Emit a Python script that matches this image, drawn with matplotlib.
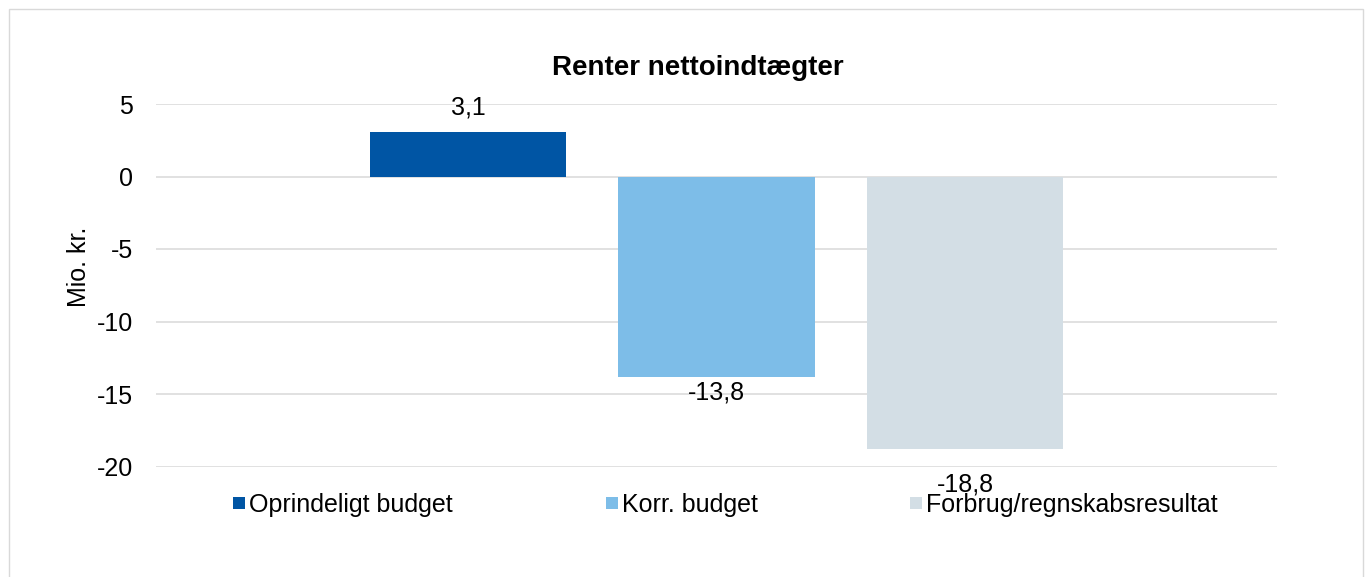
import matplotlib.pyplot as plt
from matplotlib.patches import Rectangle

plt.rcParams["font.family"] = ["Liberation Sans", "DejaVu Sans"]
plt.rcParams["font.size"] = 18
plt.rcParams["axes.unicode_minus"] = False

series = ["Oprindeligt budget", "Korr. budget", "Forbrug/regnskabsresultat"]
values = [3.1, -13.8, -18.8]
colors = ["#0055A4", "#7DBDE8", "#D3DEE5"]
yticks = [5, 0, -5, -10, -15, -20]
title = "Renter nettoindtægter"
ylabel = "Mio. kr."

# label offsets in pixels from the bar end (baseline)
label_offsets = [17, -23, -42]

fig = plt.figure(figsize=(13.7, 5.77), dpi=100)
ax = fig.add_axes([156 / 1370, 1 - 466.5 / 577, (1277 - 156) / 1370, (466.5 - 104) / 577])

pos = [-1, 0, 1]
bars = ax.bar(pos, values, width=0.79, color=colors, label=series, zorder=2)
for p, v, off in zip(pos, values, label_offsets):
    ax.annotate(f"{v:.1f}".replace(".", ","), (p, v), xytext=(0, off),
                textcoords="offset pixels", ha="center", va="baseline",
                fontsize=18, zorder=3)

ax.set_xlim(-2.255, 2.255)
ax.set_ylim(-20, 5)
ax.set_yticks(yticks)
ax.set_xticks([])
ax.grid(axis="y", color="#D9D9D9", linewidth=1.1, zorder=0)
ax.set_axisbelow(True)
ax.tick_params(axis="y", length=0, pad=16.5, labelsize=18)
for s in ax.spines.values():
    s.set_visible(False)

fig.text(698 / 1370, 1 - 75 / 577, title, ha="center", va="baseline",
         fontsize=20, fontweight="bold")
fig.text(79 / 1370, 1 - 267 / 577, ylabel, rotation=90, ha="center", va="center",
         fontsize=18)

fig.legend(handles=bars.patches, labels=series, loc="center",
           bbox_to_anchor=(725.5 / 1370, 1 - 505 / 577), ncol=3, frameon=False,
           handlelength=0.48, handleheight=0.36, handletextpad=0.16,
           columnspacing=6.1, fontsize=18, borderpad=0, borderaxespad=0)

fig.patches.append(Rectangle((8.5 / 1370, -0.1), (1363 - 8.5) / 1370, 1.1 - 8.5 / 577,
                             transform=fig.transFigure, fill=False,
                             edgecolor="#D9D9D9", linewidth=1))

fig.savefig("out.png", dpi=100)
